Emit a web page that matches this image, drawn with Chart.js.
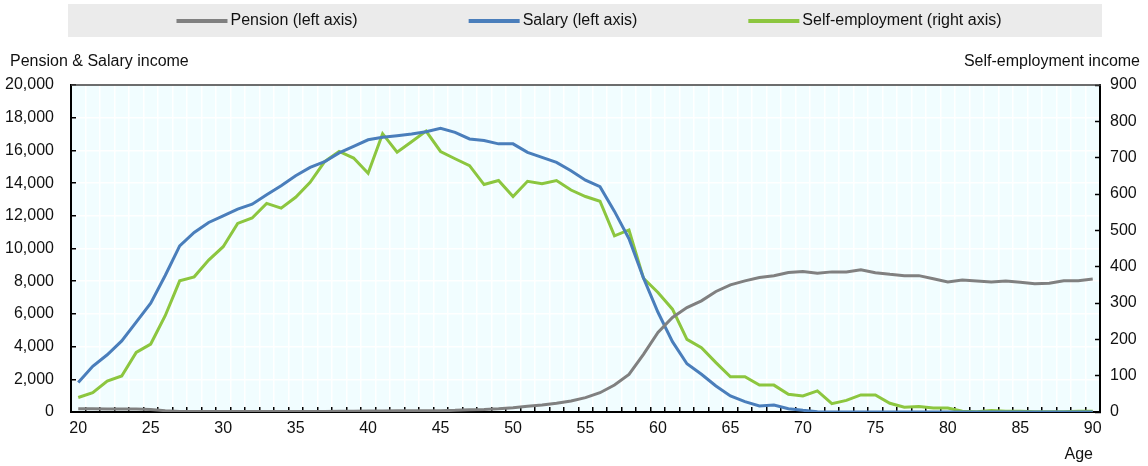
<!DOCTYPE html>
<html>
<head>
<meta charset="utf-8">
<script src="https://cdn.jsdelivr.net/npm/chart.js@4.4.1/dist/chart.umd.min.js"></script>
<style>
  html, body { margin: 0; padding: 0; background: #fff; }
  canvas { display: block; }
</style>
</head>
<body>
<canvas id="incomeChart" width="1148" height="466"></canvas>
<script>
// Average income by age
const ages = [20, 21, 22, 23, 24, 25, 26, 27, 28, 29, 30, 31, 32, 33, 34, 35, 36, 37, 38, 39,
  40, 41, 42, 43, 44, 45, 46, 47, 48, 49, 50, 51, 52, 53, 54, 55, 56, 57, 58, 59,
  60, 61, 62, 63, 64, 65, 66, 67, 68, 69, 70, 71, 72, 73, 74, 75, 76, 77, 78, 79,
  80, 81, 82, 83, 84, 85, 86, 87, 88, 89, 90];

const pension = [200, 200, 190, 190, 180, 160, 80, 30, 30, 30, 30, 30, 30, 30, 30, 30, 30, 30, 40, 50,
  60, 60, 70, 70, 80, 80, 100, 140, 160, 200, 265, 350, 430, 530, 670, 880, 1180, 1650, 2300, 3530,
  4860, 5780, 6390, 6800, 7370, 7780, 8020, 8220, 8330, 8530, 8590, 8490, 8570, 8570, 8700, 8520, 8420, 8340, 8340, 8150,
  7950, 8070, 8010, 7950, 8010, 7930, 7850, 7870, 8030, 8030, 8130];

const salary = [1800, 2800, 3500, 4350, 5500, 6650, 8350, 10160, 10980, 11590, 12000, 12410, 12710, 13290, 13840, 14450, 14960, 15310, 15850, 16250,
  16650, 16800, 16900, 17000, 17140, 17350, 17100, 16700, 16600, 16400, 16400, 15880, 15570, 15270, 14760, 14180, 13780, 12270, 10600, 8200,
  6100, 4300, 2950, 2310, 1590, 980, 630, 370, 430, 200, 100, 20, 0, 0, 0, 0, 0, 0, 0, 0,
  0, 0, 0, 0, 0, 0, 0, 0, 0, 0, 0];

const selfEmployment = [40, 53, 85, 99, 164, 187, 265, 361, 372, 418, 455, 519, 534, 574, 561, 591, 632, 689, 717, 699,
  657, 766, 715, 744, 773, 717, 697, 678, 626, 637, 593, 635, 628, 637, 611, 593, 580, 485, 501, 368,
  329, 283, 200, 177, 136, 97, 97, 74, 74, 49, 44, 58, 23, 32, 47, 47, 24, 13, 15, 11,
  11, 2, 1, 4, 2, 2, 1, 1, 1, 2, 2];

const seriesNames = ['Pension (left axis)', 'Salary (left axis)', 'Self-employment (right axis)'];
const seriesColors = ['#808080', '#4a7ebb', '#8cc63f'];
const leftCaption = 'Pension & Salary income';
const rightCaption = 'Self-employment income';
const xCaption = 'Age';

const FONT = '"Liberation Sans", Arial, sans-serif';
const TEXT = '#111';

// plot background, top edge, captions and the legend strip
const frame = {
  id: 'frame',
  beforeDraw(chart) {
    const { ctx, chartArea: a } = chart;
    ctx.save();
    ctx.fillStyle = '#f1fdff';
    ctx.fillRect(a.left, a.top, a.right - a.left, a.bottom - a.top);
    ctx.restore();
  },
  afterDraw(chart) {
    const { ctx, chartArea: a } = chart;
    ctx.save();
    ctx.strokeStyle = '#3c3c3c';
    ctx.lineWidth = 1.5;
    ctx.beginPath();
    ctx.moveTo(a.left, a.top);
    ctx.lineTo(a.right + 1, a.top);
    ctx.stroke();

    ctx.font = '16px ' + FONT;
    ctx.fillStyle = TEXT;
    ctx.textBaseline = 'middle';
    ctx.textAlign = 'left';
    ctx.fillText(leftCaption, 10, 62);
    ctx.textAlign = 'right';
    ctx.fillText(rightCaption, 1140, 62);
    ctx.fillText(xCaption, a.right - 7, 455);

    // legend
    const box = { x: 68, y: 4, w: 1034, h: 33 };
    ctx.fillStyle = '#ebebeb';
    ctx.fillRect(box.x, box.y, box.w, box.h);
    const lineLen = 51, gap = 3, spacing = 111;
    const items = chart.data.datasets.map(ds => ({
      label: ds.label, color: ds.borderColor, w: lineLen + gap + ctx.measureText(ds.label).width
    }));
    const total = items.reduce((s, it) => s + it.w, 0) + spacing * (items.length - 1);
    let x = box.x + box.w / 2 - total / 2 + 4;
    const y = box.y + box.h / 2 + 0.5;
    ctx.textAlign = 'left';
    items.forEach(it => {
      ctx.strokeStyle = it.color;
      ctx.lineWidth = 4;
      ctx.beginPath();
      ctx.moveTo(x, y);
      ctx.lineTo(x + lineLen, y);
      ctx.stroke();
      ctx.fillStyle = TEXT;
      ctx.fillText(it.label, x + lineLen + gap, y);
      x += it.w + spacing;
    });
    ctx.restore();
  }
};

const lineStyle = { borderWidth: 3, pointRadius: 0, pointHoverRadius: 0, tension: 0, fill: false };

new Chart(document.getElementById('incomeChart'), {
  type: 'line',
  data: {
    labels: ages,
    datasets: [
      { label: seriesNames[0], data: pension, borderColor: seriesColors[0], yAxisID: 'y', ...lineStyle },
      { label: seriesNames[1], data: salary, borderColor: seriesColors[1], yAxisID: 'y', ...lineStyle },
      { label: seriesNames[2], data: selfEmployment, borderColor: seriesColors[2], yAxisID: 'y1', ...lineStyle }
    ]
  },
  options: {
    responsive: false,
    devicePixelRatio: 1,
    animation: false,
    layout: { padding: { top: 85, left: 0, right: 0, bottom: 0 } },
    plugins: {
      legend: { display: false },
      tooltip: { enabled: false }
    },
    scales: {
      x: {
        type: 'category',
        offset: true,
        afterFit: s => { s.height = 54; },
        grid: {
          offset: true,
          color: '#ffffff',
          lineWidth: 1.5,
          tickColor: '#000',
          tickLength: -5,
          tickWidth: 1.5
        },
        border: { color: '#000', width: 2 },
        ticks: {
          autoSkip: false,
          maxRotation: 0,
          minRotation: 0,
          padding: 12,
          color: TEXT,
          font: { family: FONT, size: 16 },
          callback: (v, i) => (ages[i] % 5 === 0 ? String(ages[i]) : '')
        }
      },
      y: {
        position: 'left',
        min: 0,
        max: 20000,
        afterFit: s => { s.width = 71; },
        grid: {
          color: '#ffffff',
          lineWidth: 1.5,
          tickColor: '#000',
          tickLength: -5,
          tickWidth: 1.5
        },
        border: { color: '#000', width: 2 },
        ticks: {
          stepSize: 2000,
          padding: 22,
          color: TEXT,
          font: { family: FONT, size: 16 },
          callback: v => v.toLocaleString('en-US')
        }
      },
      y1: {
        position: 'right',
        min: 0,
        max: 900,
        afterFit: s => { s.width = 48; },
        grid: {
          drawOnChartArea: false,
          tickColor: '#000',
          tickLength: -5,
          tickWidth: 1.5
        },
        border: { color: '#000', width: 2 },
        ticks: {
          stepSize: 100,
          padding: 15,
          color: TEXT,
          font: { family: FONT, size: 16 }
        }
      }
    }
  },
  plugins: [frame]
});
</script>
</body>
</html>
